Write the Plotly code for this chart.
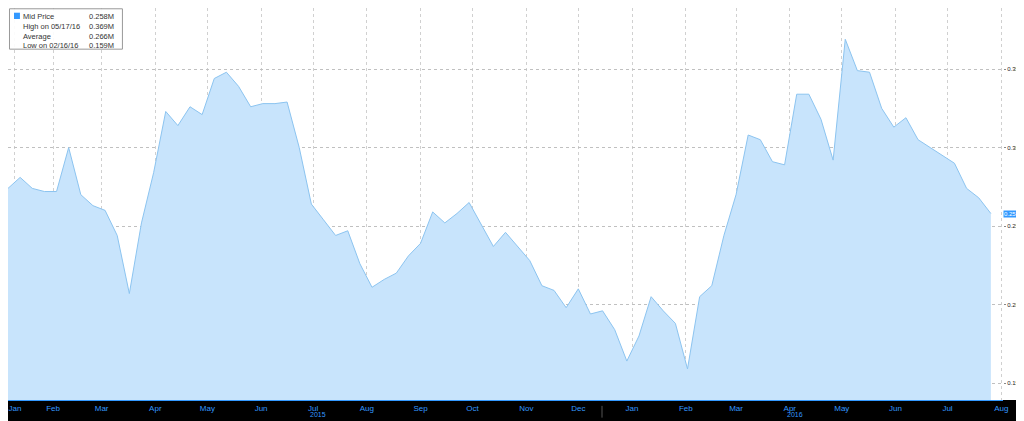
import plotly.graph_objects as go
import pandas as pd

values = [0.274,0.281,0.274,0.272,0.272,0.300,0.270,0.263,0.260,0.244,0.207,0.252,0.284,0.323,0.314,0.326,0.321,0.344,0.348,0.339,
0.326,0.328,0.328,0.329,0.300,0.264,0.254,0.244,0.247,0.226,0.211,0.216,0.220,0.231,0.239,0.259,0.252,0.258,0.265,0.251,
0.237,0.246,0.237,0.228,0.212,0.209,0.198,0.210,0.194,0.196,0.184,0.164,0.180,0.205,0.196,0.188,0.159,0.205,0.212,0.244,
0.270,0.308,0.305,0.291,0.289,0.334,0.334,0.318,0.292,0.369,0.349,0.348,0.325,0.313,0.319,0.305,0.300,0.295,0.290,0.274,
0.268,0.258]
dates = pd.date_range(end="2016-08-09", periods=len(values), freq="7D")
month_ticks = pd.date_range("2015-01-01", "2016-08-01", freq="MS") + pd.Timedelta(days=14)
month_ticks = [max(d, dates[0] + pd.Timedelta(days=4)) for d in month_ticks]
month_labels = ["Jan","Feb","Mar","Apr","May","Jun","Jul","Aug","Sep","Oct","Nov","Dec",
                "Jan","Feb","Mar","Apr","May","Jun","Jul","Aug"]
y_ticks = [0.15, 0.2, 0.25, 0.3, 0.35]
y_labels = ["0.15M", "0.2M", "0.25M", "0.3M", "0.35M"]

fig = go.Figure(go.Scatter(x=dates, y=values, mode="lines", fill="tozeroy",
    line=dict(color="#8cc4f0", width=1), fillcolor="rgba(200,228,252,1)", hoverinfo="skip"))

fig.update_layout(
    width=1024, height=421, margin=dict(l=0, r=29, t=0, b=29),
    paper_bgcolor="white", plot_bgcolor="white", showlegend=False,
    font=dict(family="Liberation Sans Narrow, Liberation Sans, DejaVu Sans", size=8, color="#3399ff"),
    xaxis=dict(range=[dates[0], dates[-1] + pd.Timedelta(days=7)], tickvals=month_ticks, ticktext=month_labels,
               showgrid=True, gridcolor="#d0d0d0", griddash="dot", ticks="", showline=True,
               linecolor="#3399ff", linewidth=1, tickfont=dict(color="#3399ff", size=8)),
    yaxis=dict(range=[0.1392, 0.3889], side="right", tickvals=y_ticks, ticktext=y_labels,
               showgrid=True, gridcolor="#c0c0c0", griddash="dot", zeroline=False,
               tickfont=dict(color="#222", size=6), ticks="outside", ticklen=2, tickcolor="#888",
               ticklabelstandoff=0),
    shapes=[dict(type="rect", xref="paper", yref="paper", x0=0, x1=1.03, y0=-0.08, y1=0,
                 fillcolor="black", line_width=0, layer="below"),
            dict(type="line", xref="paper", yref="paper", x0=0.597, x1=0.597, y0=-0.015, y1=-0.045,
                 line=dict(color="#555", width=1))],
    annotations=[
        dict(text="2015", xref="paper", yref="paper", x=0.302, y=-0.022, showarrow=False, yanchor="top", font=dict(size=7)),
        dict(text="2016", xref="paper", yref="paper", x=0.801, y=-0.022, showarrow=False, yanchor="top", font=dict(size=7)),
        dict(text="NYM1CNCN Index (Bloomberg CFTC NYME Crude Oil Net Non-Commercial Futures Positio", xref="paper", yref="paper",
             x=0, y=-0.052, xanchor="left", yanchor="top", showarrow=False, font=dict(size=7)),
        dict(text="Copyright© 2016 Bloomberg Finance L.P.", xref="paper", yref="paper",
             x=0.6, y=-0.052, xanchor="center", yanchor="top", showarrow=False, font=dict(size=7)),
        dict(text="15-Aug-2016 13:03:18", xref="paper", yref="paper",
             x=1.027, y=-0.052, xanchor="right", yanchor="top", showarrow=False, font=dict(size=7)),
        dict(text="0.258M", xref="paper", y=0.258, x=1.0, xanchor="left", showarrow=False,
             bgcolor="#3399ff", font=dict(color="white", size=6), borderpad=0),
        dict(text="Mid Price<br>High on 05/17/16<br>Average<br>Low on 02/16/16", xref="paper", yref="paper",
             x=0.013, y=0.995, xanchor="left", yanchor="top", align="left", showarrow=False,
             font=dict(color="#333", size=7.5)),
        dict(text="0.258M<br>0.369M<br>0.266M<br>0.159M", xref="paper", yref="paper",
             x=0.079, y=0.995, xanchor="left", yanchor="top", align="left", showarrow=False,
             font=dict(color="#333", size=7.5)),
    ],
)
fig.add_shape(type="rect", xref="paper", yref="paper", x0=0.0015, x1=0.115, y0=0.895, y1=0.998,
              line=dict(color="#999", width=1), fillcolor="rgba(255,255,255,0.9)", layer="above")
fig.add_shape(type="rect", xref="paper", yref="paper", x0=0.006, x1=0.012, y0=0.972, y1=0.988,
              fillcolor="#3399ff", line_width=0)
fig.write_html("out.html")
